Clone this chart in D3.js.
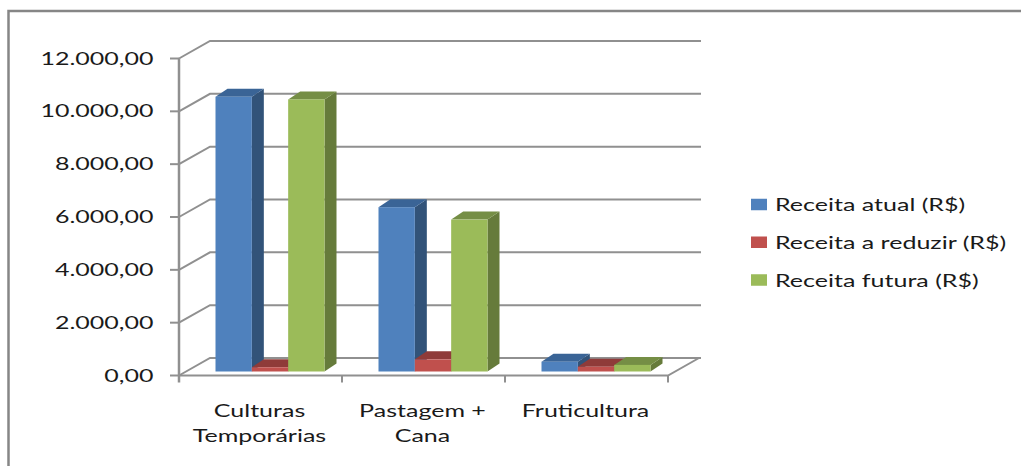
<!DOCTYPE html>
<html>
<head>
<meta charset="utf-8">
<script src="https://cdn.jsdelivr.net/npm/d3@7"></script>
<style>
  html, body { margin: 0; padding: 0; background: #fff; }
  svg { display: block; }
  text { font-family: Lato, "Open Sans", sans-serif; fill: #1a1a1a; }
</style>
</head>
<body>
<svg id="chart" width="1021" height="466"></svg>
<script>
const categories = ["Culturas Temporárias", "Pastagem + Cana", "Fruticultura"];
const categoryLines = [["Culturas", "Temporárias"], ["Pastagem +", "Cana"], ["Fruticultura"]];
const seriesNames = ["Receita atual (R$)", "Receita a reduzir (R$)", "Receita futura (R$)"];
const receitaAtual = [10400, 6220, 370];
const receitaReduzir = [160, 460, 180];
const receitaFutura = [10300, 5750, 250];
const tickValues = [0, 2000, 4000, 6000, 8000, 10000, 12000];
const frontColors = ["#4F81BD", "#C0504D", "#9BBB59"];
const sideColors = ["#325379", "#7f3533", "#667B3B"];
const topColors = ["#3A6496", "#8F3B39", "#758E45"];

const svg = d3.select("#chart");
const gridColor = "#909090";

// Oblique projection of the 3-D plot box
const wall = { dx: 31, dy: -17.5, overhang: 2 };
const barDepth = { dx: 12, dy: -8 };
const barOrigin = { dx: 9.5, dy: -4 };
const textStretch = 1.43;

const x = d3.scaleBand().domain(categories).range([179, 668]);
const inner = d3.scaleBand().domain(d3.range(3)).range([27, 136]);
const y = d3.scaleLinear().domain([0, 12000]).range([375.5, 58.5]);

const fmt = d3.formatLocale({ decimal: ",", thousands: ".", grouping: [3], currency: ["R$", ""] }).format(",.2f");

// Outer frame: only the top and left edges are drawn
svg.append("path")
  .attr("d", "M1021,11H8.5V466")
  .attr("fill", "none").attr("stroke", "#868686").attr("stroke-width", 2.5);

// Walls: each gridline runs from the front edge to the back, then across
const [x0, x1] = x.range();
const grid = svg.append("g").attr("fill", "none").attr("stroke", gridColor);
grid.selectAll("path").data(tickValues).join("path")
  .attr("stroke-width", 2)
  .attr("d", d => {
    const yy = y(d);
    return `M${x0},${yy}L${x0 + wall.dx},${yy + wall.dy}H${x1 + wall.dx + wall.overhang}`;
  });

// Floor front edge with right-hand return and category ticks
grid.append("path").attr("stroke-width", 2)
  .attr("d", `M${x0},${y(0)}H${x1}L${x1 + wall.dx},${y(0) + wall.dy}`);
grid.append("path").attr("stroke-width", 2.5).attr("d", `M${x0},${y(12000)}V${y(0) + 7}`);
grid.selectAll(".cat-tick").data(d3.range(1, 4)).join("path")
  .attr("class", "cat-tick").attr("stroke-width", 2)
  .attr("d", i => `M${x0 + i * x.step()},${y(0)}v7`);
grid.selectAll(".val-tick").data(tickValues).join("path")
  .attr("class", "val-tick").attr("stroke-width", 2)
  .attr("d", d => `M${x0 - 9},${y(d)}H${x0}`);

// Value labels
const stretched = (sel, tx, ty) => sel.attr("transform", (d, i) => `translate(${tx(d, i)},${ty(d, i)}) scale(${textStretch},1)`);
svg.append("g").selectAll("text").data(tickValues).join("text")
  .attr("text-anchor", "end").attr("font-size", 17.5)
  .text(d => fmt(d))
  .call(stretched, () => 153.5, d => y(d) + 6);

// Bars, painted left to right so each one overlaps its neighbour's side face
const seriesValues = [receitaAtual, receitaReduzir, receitaFutura];
const bars = svg.append("g");
categories.forEach((cat, c) => {
  seriesValues.forEach((vals, s) => {
    const left = x(cat) + inner(s) + barOrigin.dx;
    const right = left + inner.bandwidth();
    const top = y(vals[c]) + barOrigin.dy;
    const base = y(0) + barOrigin.dy;
    const g = bars.append("g");
    g.append("path").attr("fill", sideColors[s])
      .attr("d", `M${right},${top}l${barDepth.dx},${barDepth.dy}V${base + barDepth.dy}L${right},${base}Z`);
    g.append("path").attr("fill", topColors[s])
      .attr("d", `M${left},${top}l${barDepth.dx},${barDepth.dy}H${right + barDepth.dx}L${right},${top}Z`);
    g.append("rect").attr("fill", frontColors[s])
      .attr("x", left).attr("y", top).attr("width", right - left).attr("height", base - top);
  });
});

// Category labels, wrapped over up to two lines
const catGroups = svg.append("g").selectAll("g").data(categories).join("g");
catGroups.each(function (cat, c) {
  d3.select(this).selectAll("text").data(categoryLines[c]).join("text")
    .attr("text-anchor", "middle").attr("font-size", 17.5)
    .text(d => d)
    .call(stretched, () => x(cat) + x.bandwidth() / 2 - 1, (d, i) => 416.5 + i * 25);
});

// Legend
const legendY = d3.scalePoint().domain(seriesNames).range([204.5, 280]);
const legend = svg.append("g").selectAll("g").data(seriesNames).join("g");
legend.append("rect").attr("x", 751).attr("width", 16).attr("height", 11.5)
  .attr("y", d => legendY(d) - 5.75).attr("fill", (d, i) => frontColors[i]);
legend.append("text").attr("font-size", 17.5).text(d => d)
  .call(stretched, () => 775, d => legendY(d) + 6.5);
</script>
</body>
</html>
